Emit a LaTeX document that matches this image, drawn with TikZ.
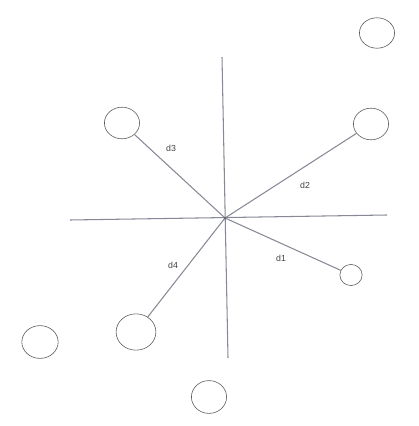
\documentclass[tikz,border=0pt]{standalone}
\usepackage{fontspec}
\setmainfont{Liberation Sans}
\usepackage{tikz}
\usetikzlibrary{positioning,shapes.geometric}
\definecolor{lineg}{RGB}{135,138,150}

\begin{document}
\begin{tikzpicture}[x=0.03cm,y=-0.03cm,
    spot/.style={draw=black!65,line width=0.5pt,ellipse,inner sep=0pt},
    axisline/.style={draw=lineg,line width=0.9pt},
    spoke/.style={draw=lineg,line width=0.9pt},
    lbl/.style={text=black!75,font=\fontsize{7.5}{8}\selectfont,inner sep=0pt}]
    \useasboundingbox (0,0) rectangle (418,426);
    % axes through the centre
    \coordinate (o) at (225,218);
    \coordinate (vtop) at (222,57);
    \coordinate (vbot) at (228,358);
    \coordinate (hleft) at (70,220);
    \coordinate (hright) at (387,215);
    \draw[axisline] (vtop) -- (vbot);
    \draw[axisline] (hleft) -- (hright);
    % points
    \node[spot,minimum width=30,minimum height=26] (p0) at (377,33) {};
    \node[spot,minimum width=30,minimum height=27] (p2) at (371,124) {};
    \node[spot,minimum width=30,minimum height=27] (p3) at (122,123) {};
    \node[spot,minimum width=19,minimum height=18] (p1) at (351,275) {};
    \node[spot,minimum width=34,minimum height=31] (p4) at (136,332) {};
    \node[spot,minimum width=31,minimum height=28] (p5) at (40,342) {};
    \node[spot,minimum width=30,minimum height=28] (p6) at (209,397) {};
    % distances from the centre
    \draw[spoke] (o) -- (p1);
    \draw[spoke] (o) -- (p2);
    \draw[spoke] (o) -- (p3);
    \draw[spoke] (o) -- (p4);
    \fill[black!60] (o) circle (1.2pt);
    \node[lbl] (l1) at (281,258) {d1};
    \node[lbl] (l2) at (305,185) {d2};
    \node[lbl] (l3) at (171,148) {d3};
    \node[lbl] (l4) at (173,265) {d4};
\end{tikzpicture}
\end{document}
